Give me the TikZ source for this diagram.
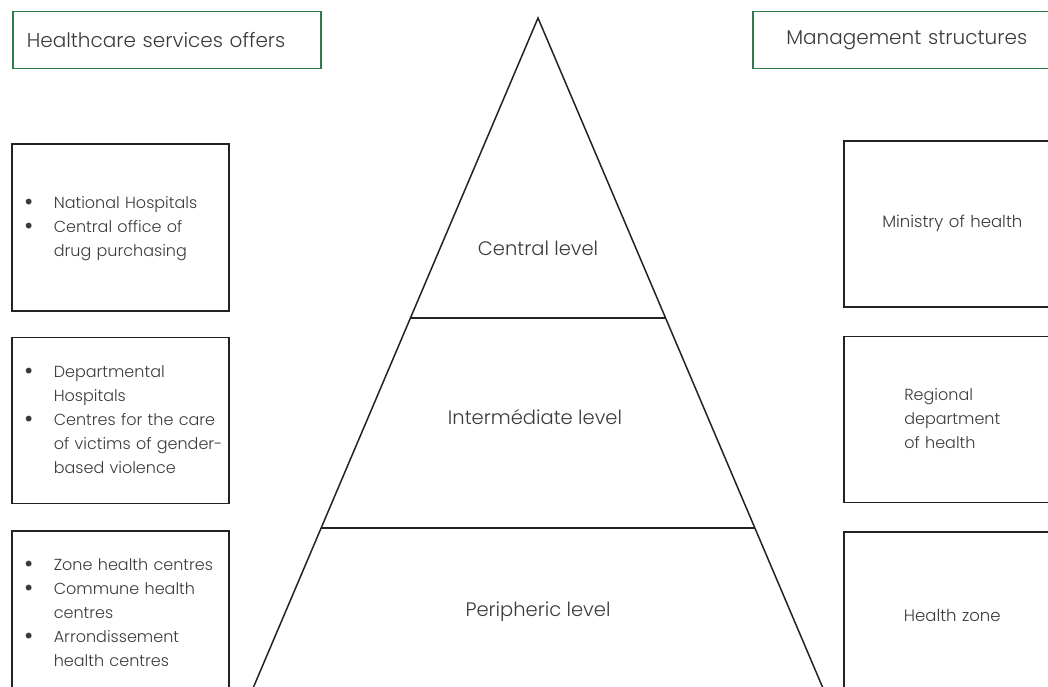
\documentclass[tikz,border=0pt]{standalone}
\usepackage{fontspec}
\setmainfont{Poppins}[UprightFont={* Light}]
\newfontfamily\bulfont{DejaVu Sans}
\usetikzlibrary{positioning, calc}
\definecolor{headgreen}{HTML}{2E7A4C}
\definecolor{textgray}{HTML}{3A3A3A}
\definecolor{linedark}{HTML}{232323}
\tikzset{
    headbox/.style={draw=headgreen, line width=1.5pt, minimum height=57pt,
        text width=280pt, inner xsep=14pt, inner ysep=0pt, text=textgray,
        font=\fontsize{20}{24}\selectfont},
    infobox/.style={draw=linedark, line width=1.6pt, minimum height=166pt,
        text width=195pt, inner xsep=11pt, inner ysep=0pt, text=textgray,
        font=\fontsize{16}{24}\selectfont},
    levellabel/.style={text=textgray, inner sep=0pt, font=\fontsize{19.5}{24}\selectfont}
}
\newcommand{\bul}{\raisebox{-1pt}{\bulfont\fontsize{20}{24}\selectfont\textbullet}}
\newcommand{\bullist}[1]{%
    \begin{tabular}{@{}p{31pt}@{}l@{}}#1\end{tabular}}
\begin{document}
\begin{tikzpicture}[x=1pt, y=-1pt]
    \useasboundingbox (0,0) rectangle (1048,687);
    \clip (0,0) rectangle (1048,687);

    % headers
    \node[headbox, align=left, anchor=north west] (offers) at (12,11)
        {Healthcare services offers};
    \node[headbox, align=center, anchor=north west] (manage) at (752,11)
        {Management structures};

    % healthcare services offers
    \node[infobox, align=left, anchor=north west, minimum height=167pt] (national) at (11,143)
        {\bullist{\bul & National Hospitals\\
                  \bul & Central office of\\
                       & drug purchasing}};
    \node[infobox, align=left, below=25pt of national] (departmental)
        {\bullist{\bul & Departmental\\
                       & Hospitals\\
                  \bul & Centres for the care\\
                       & of victims of gender-\\
                       & based violence}};
    \node[infobox, align=left, below=26pt of departmental] (zone)
        {\bullist{\bul & Zone health centres\\
                  \bul & Commune health\\
                       & centres\\
                  \bul & Arrondissement\\
                       & health centres}};

    % management structures
    \node[infobox, align=center, anchor=north west, font=\fontsize{16.5}{24}\selectfont]
        (ministry) at (843,140) {Ministry of health};
    \node[infobox, align=center, below=28pt of ministry] (regional)
        {\begin{tabular}{@{}l@{}}Regional\\department\\of health\end{tabular}};
    \node[infobox, align=center, below=28pt of regional, font=\fontsize{16.5}{24}\selectfont]
        (healthzone) {Health zone};

    % pyramid
    \coordinate (apex) at (538,18);
    \coordinate (baseL) at (248,700);
    \coordinate (baseR) at (828,700);
    \coordinate (upL) at ($(apex)!0.4399!(baseL)$);
    \coordinate (upR) at ($(apex)!0.4399!(baseR)$);
    \coordinate (lowL) at ($(apex)!0.7478!(baseL)$);
    \coordinate (lowR) at ($(apex)!0.7478!(baseR)$);
    \draw[linedark, line width=1.5pt, line join=miter] (baseL) -- (apex) -- (baseR);
    \draw[linedark, line width=1.5pt] (upL) -- (upR);
    \draw[linedark, line width=1.5pt] (lowL) -- (lowR);

    \node[levellabel] (central) at (538,248) {Central level};
    \node[levellabel] (intermediate) at (535,417) {Intermédiate level};
    \node[levellabel] (peripheric) at (538,612) {Peripheric level};
\end{tikzpicture}
\end{document}
